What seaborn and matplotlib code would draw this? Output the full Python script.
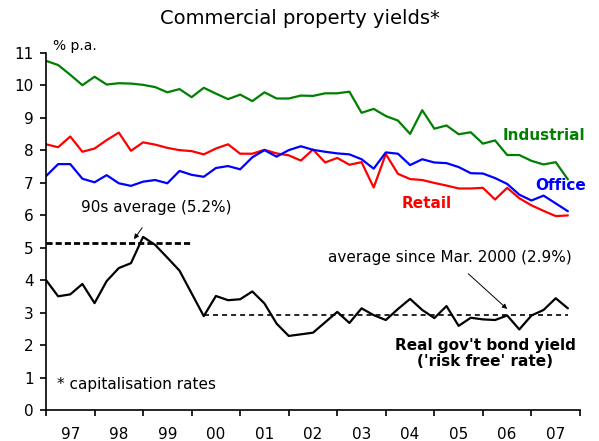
import numpy as np
import pandas as pd
import matplotlib
matplotlib.use("Agg")
import matplotlib.pyplot as plt
import seaborn as sns

# Quarterly data, Dec-1996 .. Sep-2007
industrial = [10.75, 10.62, 10.32, 10.00, 10.26, 10.02, 10.06, 10.05, 10.01, 9.94,
              9.78, 9.88, 9.63, 9.92, 9.74, 9.57, 9.71, 9.51, 9.78, 9.59,
              9.59, 9.68, 9.67, 9.75, 9.75, 9.80, 9.15, 9.27, 9.05, 8.91,
              8.50, 9.23, 8.66, 8.76, 8.49, 8.55, 8.20, 8.30, 7.85, 7.85,
              7.67, 7.56, 7.63, 7.10]
retail = [8.18, 8.09, 8.42, 7.95, 8.05, 8.31, 8.54, 7.98, 8.24, 8.17,
          8.07, 8.00, 7.97, 7.87, 8.05, 8.18, 7.89, 7.89, 8.01, 7.90,
          7.84, 7.68, 8.02, 7.62, 7.76, 7.55, 7.63, 6.85, 7.88, 7.27,
          7.11, 7.08, 6.99, 6.91, 6.82, 6.82, 6.84, 6.48, 6.84, 6.52,
          6.30, 6.13, 5.97, 5.99]
office = [7.20, 7.57, 7.57, 7.12, 7.01, 7.23, 6.98, 6.90, 7.03, 7.08,
          6.98, 7.36, 7.24, 7.18, 7.45, 7.51, 7.41, 7.78, 8.00, 7.80,
          8.00, 8.12, 8.01, 7.95, 7.90, 7.87, 7.72, 7.43, 7.93, 7.89,
          7.54, 7.72, 7.62, 7.60, 7.48, 7.29, 7.28, 7.14, 6.96, 6.63,
          6.45, 6.60, 6.36, 6.12]
bond = [4.00, 3.50, 3.56, 3.88, 3.29, 3.97, 4.37, 4.52, 5.33, 5.08,
        4.69, 4.29, 3.59, 2.89, 3.51, 3.38, 3.41, 3.65, 3.28, 2.66,
        2.28, 2.33, 2.38, 2.70, 3.02, 2.68, 3.13, 2.92, 2.77, 3.11,
        3.42, 3.08, 2.83, 3.20, 2.59, 2.84, 2.79, 2.77, 2.91, 2.48,
        2.91, 3.08, 3.44, 3.13]
year_labels = ["97", "98", "99", "00", "01", "02", "03", "04", "05", "06", "07"]
avg_90s = 5.15
avg_since_2000 = 2.93

quarter = np.arange(len(bond))
df = pd.DataFrame({"q": np.tile(quarter, 4),
                   "yield": industrial + retail + office + bond,
                   "series": (["Industrial"] * len(quarter) + ["Retail"] * len(quarter)
                              + ["Office"] * len(quarter) + ["Bond"] * len(quarter))})

sns.set_style("ticks", {"text.color": "black", "xtick.color": "black",
                        "ytick.color": "black", "axes.edgecolor": "black",
                        "axes.labelcolor": "black"})
plt.rcParams["font.family"] = ["DejaVu Sans"]
plt.rcParams["lines.scale_dashes"] = False

fig = plt.figure(figsize=(5.99, 4.41), dpi=100)
ax = fig.add_axes([46 / 599, 1 - 410 / 441, (580 - 46) / 599, (410 - 52.7) / 441])

palette = {"Industrial": "#008000", "Retail": "#FF0000", "Office": "#0000FF", "Bond": "#000000"}
sns.lineplot(data=df, x="q", y="yield", hue="series", palette=palette,
             linewidth=1.6, legend=False, ax=ax)

# average lines
ax.plot([0, 12], [avg_90s, avg_90s], color="black", linewidth=2.0, dashes=(4.4, 2.2))
ax.plot([13, 43], [avg_since_2000, avg_since_2000], color="black", linewidth=1.2, dashes=(3.6, 2.9))

ax.set_xlim(0, 44)
ax.set_ylim(0, 11)
ax.set_yticks(range(0, 12))
ax.set_yticklabels([str(v) for v in range(0, 12)], fontsize=11)
ax.set_xticks(np.arange(0, 45, 4))
ax.set_xticklabels([])
ax.set_xticks(np.arange(2, 44, 4), minor=True)
ax.set_xticklabels(year_labels, minor=True, fontsize=11)
ax.tick_params(axis="x", which="major", length=4, width=1.2, direction="out")
ax.tick_params(axis="x", which="minor", length=0, pad=12)
ax.tick_params(axis="y", length=4, width=1.2, direction="out", pad=5)
ax.set_xlabel("")
ax.set_ylabel("")
sns.despine(ax=ax)
for s in ("left", "bottom"):
    ax.spines[s].set_linewidth(1.2)

fig.text(0.5, 1 - 18 / 441, "Commercial property yields*", ha="center", va="center", fontsize=14)
ax.text(0.6, 11.2, "% p.a.", fontsize=10, ha="left", va="center", clip_on=False)

ax.text(37.6, 8.45, "Industrial", color="#008000", fontsize=11, fontweight="bold", ha="left", va="center")
ax.text(40.3, 6.92, "Office", color="#0000FF", fontsize=11, fontweight="bold", ha="left", va="center")
ax.text(29.3, 6.36, "Retail", color="#FF0000", fontsize=11, fontweight="bold", ha="left", va="center")
ax.text(36.2, 1.74, "Real gov't bond yield\n('risk free' rate)", color="black", fontsize=11,
        fontweight="bold", ha="center", va="center", linespacing=1.15)
ax.text(0.9, 0.8, "* capitalisation rates", fontsize=11, ha="left", va="center")

ax.annotate("90s average (5.2%)", xy=(7.25, 5.26), xytext=(9.1, 6.22),
            fontsize=11, ha="center", va="center",
            arrowprops=dict(arrowstyle="-|>", color="black", lw=0.7, mutation_scale=7,
                            shrinkA=8, shrinkB=0))
ax.annotate("average since Mar. 2000 (2.9%)", xy=(38.0, 3.11), xytext=(33.3, 4.70),
            fontsize=11, ha="center", va="center",
            arrowprops=dict(arrowstyle="-|>", color="black", lw=0.7, mutation_scale=7,
                            shrinkA=6, shrinkB=0))

fig.savefig("out.png", dpi=100)
